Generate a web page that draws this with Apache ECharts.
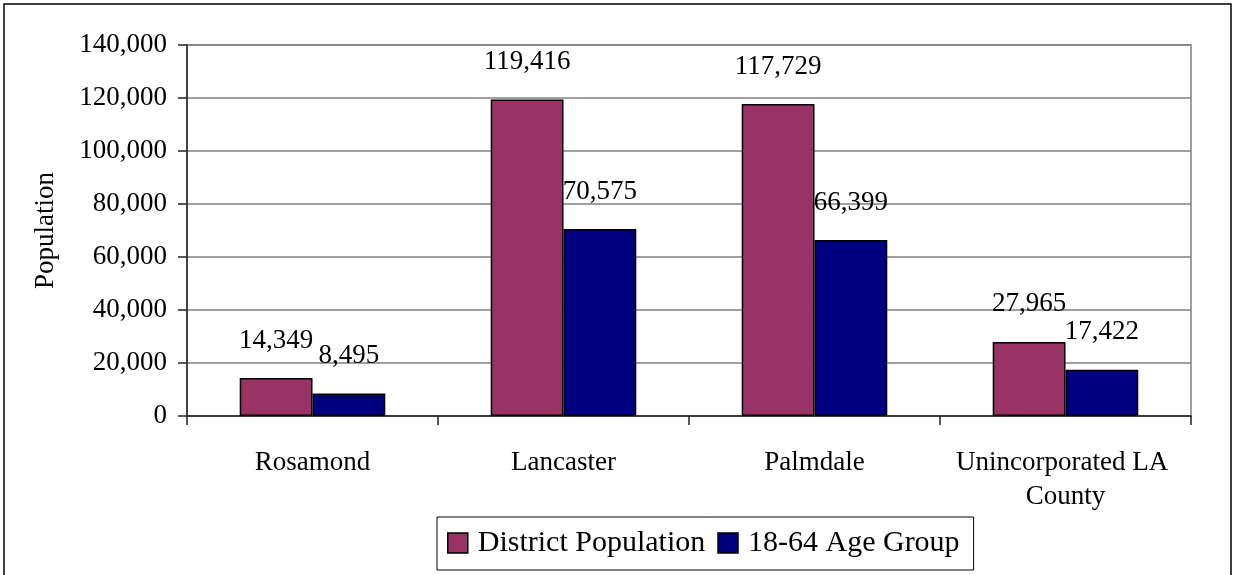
<!DOCTYPE html>
<html>
<head>
<meta charset="utf-8">
<script src="https://cdn.jsdelivr.net/npm/echarts@6/dist/echarts.min.js"></script>
<style>
html,body{margin:0;padding:0;background:#fff;}
#c{width:1236px;height:575px;}
</style>
</head>
<body>
<div id="c"></div>
<script>
const categories = ["Rosamond", "Lancaster", "Palmdale", "Unincorporated LA County"];
const districtPopulation = [14349, 119416, 117729, 27965];
const ageGroup18to64 = [8495, 70575, 66399, 17422];
const seriesNames = ["District Population", "18-64 Age Group"];
const yTicks = { min: 0, max: 140000, interval: 20000 };

const FONT = "'Liberation Serif', 'Times New Roman', serif";
const fmt = v => String(v).replace(/\B(?=(\d{3})+(?!\d))/g, ",");

const chart = echarts.init(document.getElementById('c'), null, {renderer: 'canvas'});
const labelCfg = {
  show: true, position: 'top', distance: 24,
  fontFamily: FONT, fontSize: 27, color: '#000',
  formatter: p => fmt(p.value)
};
chart.setOption({
  animation: false,
  backgroundColor: '#fff',
  graphic: [{
    type: 'rect', shape: {x: 4, y: 4, width: 1227, height: 640},
    style: {fill: 'none', stroke: '#000', lineWidth: 1.5}, silent: true, z: -1
  }],
  grid: {left: 187, right: 45, top: 45, bottom: 159, show: true,
         borderColor: '#808080', borderWidth: 1.5, backgroundColor: 'transparent'},
  legend: {
    left: 437, top: 517,
    padding: [11, 14, 12, 10],
    itemGap: 12, itemWidth: 20, itemHeight: 20,
    borderColor: '#000', borderWidth: 1,
    icon: 'rect',
    textStyle: {fontFamily: FONT, fontSize: 30, color: '#000', padding: [0, 0, 0, 5]},
    itemStyle: {borderColor: '#000', borderWidth: 1.5},
    data: seriesNames
  },
  xAxis: {
    type: 'category', data: categories,
    axisLine: {lineStyle: {color: '#222', width: 1.5}},
    axisTick: {show: true, length: 9, lineStyle: {color: '#222', width: 1.5}},
    axisLabel: {fontFamily: FONT, fontSize: 27, color: '#000', margin: 30,
                interval: 0, lineHeight: 34, width: 240, overflow: 'break'},
    splitLine: {show: false}
  },
  yAxis: {
    type: 'value', min: yTicks.min, max: yTicks.max, interval: yTicks.interval,
    name: 'Population', nameLocation: 'middle', nameRotate: 90, nameGap: 128,
    nameTextStyle: {fontFamily: FONT, fontSize: 27, color: '#000'},
    axisLine: {show: true, lineStyle: {color: '#222', width: 1.5}},
    axisTick: {show: true, length: 9, lineStyle: {color: '#222', width: 1.5}},
    axisLabel: {fontFamily: FONT, fontSize: 27, color: '#000', margin: 20, formatter: v => fmt(v)},
    splitLine: {show: true, lineStyle: {color: '#808080', width: 1.5}}
  },
  series: [
    {name: seriesNames[0], type: 'bar', data: districtPopulation,
     barGap: '0%', barCategoryGap: '42%',
     itemStyle: {color: '#993366', borderColor: '#000', borderWidth: 1.5},
     label: labelCfg},
    {name: seriesNames[1], type: 'bar', data: ageGroup18to64,
     barGap: '0%', barCategoryGap: '42%',
     itemStyle: {color: '#000080', borderColor: '#000', borderWidth: 1.5},
     label: labelCfg}
  ]
});
</script>
</body>
</html>
